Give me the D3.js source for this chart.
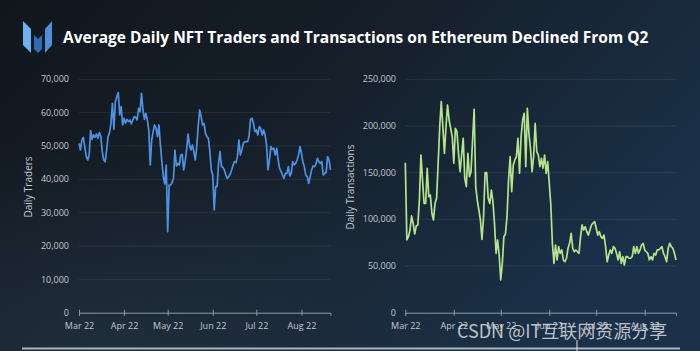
<!DOCTYPE html>
<html lang="en">
<head>
<meta charset="UTF-8">
<title>Average Daily NFT Traders and Transactions on Ethereum</title>
<style>
  html, body { margin: 0; padding: 0; background: #141a22; }
  svg { display: block; }
</style>
<script src="https://d3js.org/d3.v7.min.js"></script>
</head>
<body>
<script>
// daily values from 2022-03-01, in thousands
var startDate = "2022-03-01";
var monthTicks = ["2022-03-01", "2022-04-01", "2022-05-01", "2022-06-01", "2022-07-01", "2022-08-01"];

var traders = [
  50.8, 48.8, 51.8, 52.6, 49.6, 46.8, 45.8, 47.3, 54.6, 52.0,
  53.3, 52.6, 53.6, 52.3, 54.0, 52.8, 48.3, 45.8, 45.3, 48.8,
  52.8, 54.0, 56.8, 62.8, 55.0, 63.3, 64.8, 66.0, 59.3, 61.8,
  56.3, 58.3, 56.8, 58.0, 57.3, 57.8, 56.6, 57.8, 58.8, 58.6,
  57.8, 61.3, 60.3, 65.8, 60.8, 58.0, 59.8, 57.8, 54.8, 44.3,
  51.8, 54.3, 56.3, 55.3, 52.8, 56.3, 50.3, 45.3, 40.8, 38.6,
  44.3, 24.3, 38.3, 38.3, 39.0, 40.3, 48.8, 44.0, 44.8, 44.3,
  47.3, 47.5, 42.8, 45.3, 48.8, 53.6, 50.3, 48.8, 50.3, 48.3,
  45.8, 49.8, 56.0, 60.8, 58.8, 56.3, 56.8, 53.8, 52.8, 52.3,
  48.5, 42.8, 41.3, 30.8, 37.8, 37.8, 44.8, 48.3, 43.8, 43.6,
  42.8, 41.3, 40.3, 40.8, 41.6, 42.8, 44.3, 45.3, 45.0, 46.8,
  51.8, 47.3, 48.8, 50.8, 51.3, 51.3, 51.3, 53.0, 58.0, 58.3,
  56.8, 54.3, 54.8, 53.3, 55.8, 55.3, 53.3, 54.8, 53.3, 50.3,
  42.8, 45.8, 49.8, 49.0, 49.3, 47.3, 49.3, 45.8, 43.3, 42.3,
  41.3, 40.3, 41.8, 41.8, 43.8, 41.0, 41.8, 45.3, 44.3, 44.8,
  45.8, 47.3, 49.8, 47.8, 45.3, 43.8, 41.3, 40.8, 38.8, 40.8,
  42.8, 44.0, 43.8, 44.6, 46.3, 45.3, 44.8, 45.3, 41.3, 41.8,
  42.0, 46.8, 45.8, 42.8
];

var transactions = [
  160.7, 77.9, 81.4, 88.6, 103.6, 95.8, 84.3, 92.9, 94.0, 120.7,
  168.9, 142.0, 117.0, 117.0, 154.7, 124.3, 126.0, 106.5, 99.3, 117.0,
  122.5, 160.0, 199.2, 226.0, 199.2, 170.7, 199.2, 222.5, 206.4, 197.5,
  188.5, 160.0, 197.5, 193.9, 170.7, 151.0, 168.9, 186.8, 144.0, 135.0,
  170.7, 145.7, 151.0, 185.0, 217.9, 135.0, 120.7, 110.0, 99.3, 78.6,
  102.8, 150.0, 150.0, 122.5, 117.0, 131.4, 118.9, 95.8, 63.6, 77.9,
  61.8, 35.0, 52.9, 81.4, 84.3, 102.8, 142.0, 167.1, 129.6, 158.2,
  163.6, 167.1, 186.8, 149.3, 188.5, 206.4, 213.6, 156.4, 219.0, 192.2,
  176.1, 151.0, 167.1, 202.9, 172.5, 168.9, 156.4, 165.4, 154.7, 168.9,
  149.3, 161.8, 138.6, 115.4, 74.3, 52.9, 72.5, 56.5, 70.7, 63.6,
  67.2, 56.5, 54.6, 58.3, 69.0, 74.3, 85.0, 69.0, 65.3, 67.2,
  65.3, 63.6, 81.4, 94.0, 88.6, 92.1, 86.8, 83.2, 88.6, 94.0,
  96.0, 97.5, 90.4, 83.2, 86.8, 81.4, 79.7, 83.2, 70.7, 54.6,
  61.8, 67.2, 63.6, 70.7, 69.0, 63.6, 56.5, 65.3, 52.9, 60.0,
  51.1, 60.0, 60.0, 58.3, 58.3, 60.0, 70.7, 63.6, 70.7, 63.6,
  67.2, 72.5, 74.3, 67.2, 65.3, 63.6, 56.5, 60.0, 56.5, 63.6,
  61.8, 67.2, 67.2, 69.0, 70.7, 63.6, 60.0, 54.6, 69.0, 74.3,
  70.7, 69.0, 63.6, 56.5
];

var traderTicks = [0, 10000, 20000, 30000, 40000, 50000, 60000, 70000];
var txTicks = [0, 50000, 100000, 150000, 200000, 250000];

var titleText = "Average Daily NFT Traders and Transactions on Ethereum Declined From Q2";
var watermark = "CSDN @IT互联网资源分享";

var width = 700, height = 351;
var yTop = 79.3, yBottom = 312.7;
var parse = d3.timeParse("%Y-%m-%d");
var start = parse(startDate);

var svg = d3.select("body").append("svg")
  .attr("width", width)
  .attr("height", height);

// background
var defs = svg.append("defs");
var bg = defs.append("linearGradient").attr("id", "bg")
  .attr("x1", 0).attr("y1", 0).attr("x2", 1).attr("y2", 0.5);
bg.append("stop").attr("offset", "0%").attr("stop-color", "#11161c");
bg.append("stop").attr("offset", "50%").attr("stop-color", "#16202b");
bg.append("stop").attr("offset", "100%").attr("stop-color", "#1a3149");
var glow = defs.append("radialGradient").attr("id", "glow")
  .attr("cx", 0.15).attr("cy", 1).attr("r", 0.6);
glow.append("stop").attr("offset", "0%").attr("stop-color", "#22303f").attr("stop-opacity", 0.8);
glow.append("stop").attr("offset", "100%").attr("stop-color", "#22303f").attr("stop-opacity", 0);

svg.append("rect").attr("width", width).attr("height", height).attr("fill", "url(#bg)");
svg.append("rect").attr("width", width).attr("height", height).attr("fill", "url(#glow)");

// logo
var logo = svg.append("g");
logo.append("polygon").attr("points", "23,21 31,29 31,53 23,45").attr("fill", "#6db2ee");
logo.append("polygon").attr("points", "34,35 38,39 42,35 42,49 38,53 34,49").attr("fill", "#2d6bb4");
logo.append("polygon").attr("points", "45,29 52,21 52,45 45,53").attr("fill", "#4a90da");

svg.append("text")
  .attr("x", 63).attr("y", 43)
  .attr("fill", "#ffffff")
  .style("font-family", "'Open Sans', sans-serif")
  .style("font-weight", 700)
  .style("font-size", "15.5px")
  .text(titleText);

function drawPanel(opts) {
  var data = opts.values.map(function(v, i) {
    return {date: d3.timeDay.offset(start, i), value: v * 1000};
  });
  var x = d3.scaleTime()
    .domain([start, d3.timeDay.offset(start, opts.values.length - 1)])
    .range([opts.x0, opts.x1]);
  var y = d3.scaleLinear()
    .domain([0, opts.ticks[opts.ticks.length - 1]])
    .range([yBottom, yTop]);

  var g = svg.append("g");

  // gridlines
  g.selectAll("line.grid")
    .data(opts.ticks.filter(function(t) { return t > 0; }))
    .enter().append("line")
    .attr("class", "grid")
    .attr("x1", opts.x0).attr("x2", opts.x1)
    .attr("y1", function(d) { return y(d); })
    .attr("y2", function(d) { return y(d); })
    .attr("stroke", "#ffffff").attr("stroke-opacity", 0.08);

  // y labels
  g.selectAll("text.ylab")
    .data(opts.ticks)
    .enter().append("text")
    .attr("class", "ylab")
    .attr("x", opts.labelX)
    .attr("y", function(d) { return y(d); })
    .attr("dy", "0.35em")
    .attr("text-anchor", "end")
    .attr("fill", "#c3c8ce")
    .style("font-family", "'Open Sans', sans-serif")
    .style("font-size", "9px")
    .text(d3.format(","));

  // x axis
  var xAxis = d3.axisBottom(x)
    .tickValues(monthTicks.map(parse))
    .tickFormat(d3.timeFormat("%b %y"))
    .tickSizeOuter(0)
    .tickSize(3);
  var ax = g.append("g")
    .attr("transform", "translate(0," + yBottom + ")")
    .call(xAxis);
  ax.select(".domain").attr("stroke", "#8e98a3");
  ax.selectAll(".tick line").attr("y1", -3).attr("y2", 3).attr("stroke", "#8e98a3");
  ax.selectAll(".tick text")
    .attr("y", 10)
    .attr("fill", "#c3c8ce")
    .style("font-family", "'Open Sans', sans-serif")
    .style("font-size", "9px");

  // axis title
  g.append("text")
    .attr("transform", "translate(" + opts.titleX + "," + 187 + ") rotate(-90)")
    .attr("text-anchor", "middle")
    .attr("dy", "0.35em")
    .attr("fill", "#c3c8ce")
    .style("font-family", "'Open Sans', sans-serif")
    .style("font-size", "10px")
    .text(opts.title);

  var line = d3.line()
    .x(function(d) { return x(d.date); })
    .y(function(d) { return y(d.value); });

  g.append("path")
    .datum(data)
    .attr("fill", "none")
    .attr("stroke", opts.color)
    .attr("stroke-width", 1.7)
    .attr("stroke-linejoin", "round")
    .attr("d", line);
}

drawPanel({values: traders, ticks: traderTicks, x0: 79, x1: 330.5, labelX: 69,
           titleX: 28, title: "Daily Traders", color: "#4d93e4"});
drawPanel({values: transactions, ticks: txTicks, x0: 405.3, x1: 676, labelX: 396,
           titleX: 350, title: "Daily Transactions", color: "#b5e48c"});

// slide edge and watermark
svg.append("line")
  .attr("x1", 22).attr("x2", 680).attr("y1", 348.5).attr("y2", 348.5)
  .attr("stroke", "#aab6c2").attr("stroke-width", 2);
svg.append("line")
  .attr("x1", 577).attr("x2", 577).attr("y1", 340).attr("y2", 351)
  .attr("stroke", "#e0e0e0").attr("stroke-width", 1);
svg.append("text")
  .attr("x", 457).attr("y", 338)
  .attr("fill", "#dcdcdc").attr("fill-opacity", 0.85)
  .style("font-family", "'Noto Sans CJK SC', 'Noto Sans', sans-serif")
  .style("font-size", "18px")
  .text(watermark);
</script>
</body>
</html>
